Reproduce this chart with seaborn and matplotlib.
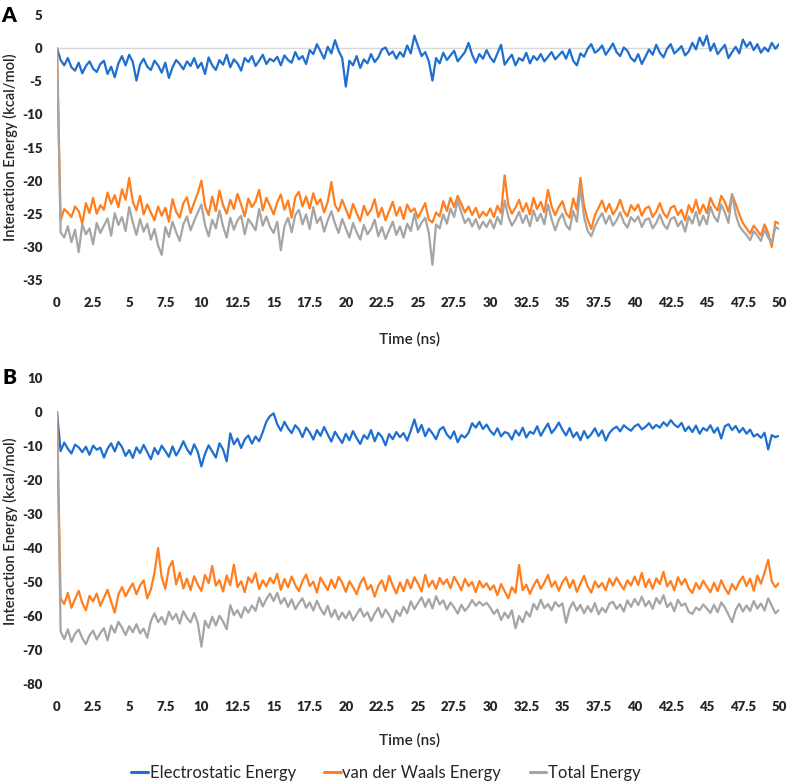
import numpy as np
import pandas as pd
import matplotlib
matplotlib.use("Agg")
import matplotlib.pyplot as plt
from matplotlib.lines import Line2D
import seaborn as sns

# ---------------- data (step 0.25 ns) ----------------
time_ns = np.round(np.arange(0, 50.001, 0.25), 2)

elec_A = [0,
    -1.8, -2.6, -1.5, -2.9, -3.4, -2.2, -3.8, -2.7, -2.0, -3.1, -3.6, -2.4, -1.9, -3.9, -2.8, -4.4, -2.3, -1.2, -2.6,
    -1.0, -2.1, -4.9, -2.5, -1.6, -2.8, -3.3, -1.9, -2.6, -3.7, -2.2, -4.5, -2.9, -1.8, -2.4, -3.2, -2.0, -2.7, -1.5, -3.0,
    -2.2, -3.9, -1.4, -2.6, -3.3, -1.8, -2.5, -1.0, -2.9, -1.7, -2.3, -3.4, -1.5, -2.1, -1.2, -2.7, -1.9, -1.0, -2.4, -1.6,
    -2.0, -1.3, -2.6, -1.1, -1.8, -2.2, -0.6, -1.7, -1.2, -2.4, -0.3, -0.9, 0.6, -0.5, -1.6, 0.2, -0.8, 1.2, -0.4, -1.5,
    -5.8, -1.9, -2.6, -1.2, -3.0, -1.7, -2.3, -0.9, -2.1, -1.4, -0.2, 0.1, -1.0, -0.5, -1.6, -0.6, -1.3, 0.4, -0.8, 1.9,
    0.3, -1.2, -0.6, -2.0, -4.9, -1.5, -2.3, -0.7, -1.8, -1.1, -0.4, -2.0, -1.3, -0.6, 0.8, -1.0, -2.2, -0.9, -1.6, -0.3,
    -1.4, -2.1, -0.8, 0.5, -2.5, -1.7, -1.0, -2.6, -1.5, -1.9, -0.7, -2.3, -1.2, -1.8, -0.9, -2.0, -1.3, -0.6, -1.7, -1.1,
    -0.5, -1.6, -0.2, -1.9, -2.6, -0.8, -1.3, -0.1, 0.6, -0.7, -0.3, 0.4, -1.0, -0.2, 0.7, -0.6, -1.2, 0.1, -0.4, -1.5,
    -2.0, -0.9, -2.4, -1.3, -0.2, -1.0, 0.5, -0.7, -1.4, -0.1, 0.6, -0.8, -0.3, 0.3, -1.1, -0.5, 0.8, -0.2, 1.6, 0.4,
    1.9, -0.4, 0.7, -0.9, -0.2, 0.5, -1.5, -0.6, 0.2, -0.8, 1.3, 0.2, 0.9, -0.3, 0.6, -0.7, 0.1, -0.5, 0.8, -0.1,
    0.6]

vdw_A = [0,
    -26.0, -24.3, -24.8, -25.5, -23.9, -24.6, -26.5, -23.4, -24.9, -22.6, -25.0, -23.7, -24.4, -21.8, -23.5, -22.2, -24.0, -21.3, -22.9,
    -19.6, -23.2, -24.5, -22.3, -25.1, -23.6, -24.8, -26.0, -23.9, -25.3, -24.1, -26.2, -22.8, -24.7, -25.6, -23.4, -22.5, -24.9, -23.3, -21.9,
    -20.0, -23.8, -25.2, -22.4, -24.6, -21.5, -23.7, -25.0, -22.9, -24.3, -22.0, -23.6, -25.4, -22.7, -24.0, -23.1, -21.4, -24.5, -22.6, -23.8,
    -25.1, -23.3, -22.1, -24.4, -23.0, -25.6, -22.5, -21.7, -23.9, -22.4, -24.2, -21.9, -23.6, -22.8, -24.8, -23.2, -20.2, -23.7, -24.6, -22.9,
    -24.3, -25.7, -23.5, -24.9, -26.1, -23.8, -25.2, -24.4, -22.8, -25.5, -24.1, -26.0, -24.6, -23.2, -25.3, -24.0, -25.8, -23.6, -24.7, -24.2,
    -25.6, -24.5, -23.4, -25.9, -26.3, -24.8, -25.4, -23.1, -24.6, -22.6, -24.0, -22.3, -23.5, -24.8, -23.9, -25.2, -24.1, -25.6, -24.7, -25.3,
    -24.2, -25.5, -23.8, -24.9, -19.2, -23.6, -25.0, -24.1, -22.9, -24.7, -23.4, -25.1, -22.6, -24.3, -23.2, -24.8, -21.4, -23.9, -25.2, -24.0,
    -23.1, -24.9, -25.6, -22.7, -24.4, -19.6, -23.8, -25.9, -27.3, -25.2, -24.1, -23.0, -24.7, -23.5, -25.1, -24.3, -22.9, -24.6, -25.4, -23.7,
    -24.5, -23.6, -25.3, -24.2, -23.9, -25.5, -24.7, -23.4, -24.9, -25.6, -24.1, -23.8, -25.2, -24.4, -26.0, -23.7, -24.8, -22.9, -25.0, -23.6,
    -24.9, -22.6, -23.8, -24.5, -22.3, -23.2, -24.7, -22.1, -23.5, -25.1, -26.4, -27.2, -28.0, -26.8, -27.5, -28.3, -26.6, -27.9, -30.0, -26.2,
    -26.5]

total_A = [0,
    -27.8, -28.6, -26.9, -29.3, -27.4, -30.8, -26.6, -28.1, -27.2, -29.6, -26.4, -27.9, -26.8, -25.7, -28.3, -24.9, -26.7, -25.5, -27.6,
    -24.0, -26.3, -28.2, -25.8, -27.7, -26.5, -28.9, -27.3, -29.8, -31.2, -27.0, -28.5, -26.2, -27.8, -29.1, -26.6, -25.4, -27.5, -26.1, -24.8,
    -23.6, -26.7, -28.4, -25.9, -27.2, -24.5, -26.9, -28.6, -25.6, -27.4, -26.0, -25.3, -28.1, -25.8, -26.6, -27.5, -24.3, -26.8, -25.4, -27.0,
    -27.9, -26.2, -30.5, -26.9, -25.6, -27.8, -25.2, -24.4, -26.6, -25.1, -27.3, -24.0, -26.4, -25.5, -27.7, -26.0, -24.6, -26.5, -27.9, -25.8,
    -27.2, -28.6, -26.4, -27.8, -28.9, -26.7, -28.1, -27.3, -25.9, -28.4, -27.0, -28.8, -27.5, -26.2, -28.2, -26.9, -28.6, -26.5, -27.6, -25.0,
    -27.4, -26.3, -25.6, -27.9, -32.7, -26.6, -27.2, -25.1, -26.5, -24.2, -25.5, -23.0, -24.8, -26.4, -25.7, -26.9, -25.8, -27.3, -26.2, -27.0,
    -25.9, -27.2, -25.5, -26.6, -23.0, -25.4, -26.8, -25.9, -24.7, -26.4, -25.2, -26.9, -24.5, -26.1, -25.0, -26.6, -23.6, -25.8, -27.5, -25.9,
    -25.0, -26.7, -27.4, -24.6, -26.2, -21.0, -25.5, -27.6, -28.4, -26.9, -25.8, -24.9, -26.5, -25.3, -26.8, -26.0, -24.8, -26.3, -27.1, -25.5,
    -26.2, -25.4, -27.0, -25.9, -25.7, -27.2, -26.4, -25.1, -26.6, -27.3, -25.8, -25.5, -26.9, -26.1, -27.7, -25.4, -26.5, -24.7, -26.8, -25.3,
    -26.6, -23.9, -25.4, -26.2, -23.6, -24.8, -26.4, -22.0, -25.1, -26.8, -27.6, -28.2, -29.0, -27.6, -28.3, -29.1, -27.4, -28.6, -29.4, -27.0,
    -27.3]

elec_B = [0,
    -11.5, -9.0, -10.8, -12.2, -9.6, -10.4, -11.8, -10.2, -12.6, -9.9, -11.1, -10.5, -13.4, -10.8, -9.2, -11.6, -8.8, -10.3, -12.9,
    -11.2, -13.5, -10.4, -12.1, -9.7, -11.8, -13.9, -10.6, -12.4, -9.9, -11.5, -13.2, -10.1, -12.8, -11.0, -8.6, -10.9, -12.5, -9.5, -11.7,
    -16.0, -12.3, -9.8, -11.6, -13.4, -9.2, -11.0, -14.5, -6.3, -9.5, -7.8, -10.6, -8.1, -6.9, -9.3, -7.2, -8.6, -5.9, -2.8, -1.2,
    -0.4, -3.6, -5.5, -2.9, -4.8, -6.2, -3.9, -5.1, -7.4, -4.6, -6.0, -8.1, -5.3, -7.0, -4.4, -6.6, -8.7, -5.8, -7.5, -9.1,
    -6.4, -8.3, -5.6, -7.7, -9.4, -6.8, -7.9, -5.3, -8.6, -6.1, -7.3, -9.8, -6.5, -8.0, -5.9, -7.4, -6.2, -8.4, -5.5, -2.2,
    -6.0, -3.8, -7.1, -4.9, -6.3, -8.0, -5.2, -4.4, -6.6, -7.8, -5.7, -8.9, -6.8, -7.5, -6.1, -3.3, -4.6, -2.9, -5.0, -3.7,
    -5.5, -6.7, -4.8, -7.2, -5.9, -6.3, -8.1, -5.4, -6.9, -4.6, -7.5, -5.8, -6.4, -4.2, -7.0, -5.1, -3.4, -6.2, -4.9, -3.1,
    -5.2, -6.9, -4.7, -7.4, -6.0, -8.3, -5.6, -7.7, -6.5, -4.8, -7.1, -5.4, -8.4, -6.2, -5.0, -4.3, -5.7, -3.9, -4.8, -5.5,
    -4.2, -3.6, -5.1, -4.4, -3.3, -4.9, -3.8, -4.6, -3.0, -4.1, -2.4, -3.7, -4.5, -3.2, -5.6, -4.3, -5.9, -4.0, -6.4, -4.7,
    -5.5, -3.9, -6.1, -4.6, -7.8, -4.2, -3.6, -5.3, -4.1, -6.0, -4.7, -6.4, -5.2, -7.2, -6.5, -7.6, -6.1, -11.0, -6.8, -7.4,
    -7.0]

vdw_B = [0,
    -54.8, -56.5, -53.2, -57.6, -55.0, -52.6, -56.2, -58.3, -54.1, -55.7, -53.4, -57.0, -54.6, -52.3, -55.8, -59.0, -53.7, -51.5, -54.2,
    -52.1, -50.4, -53.6, -51.0, -49.5, -54.8, -52.2, -47.3, -40.0, -48.6, -52.0, -45.9, -43.8, -50.7, -47.2, -51.9, -49.0, -52.4, -48.3, -50.8,
    -52.6, -47.9, -50.3, -45.3, -51.1, -49.4, -52.8, -48.1, -50.9, -44.9, -51.5, -49.8, -53.0, -48.6, -50.2, -47.4, -52.1, -49.5, -51.3, -48.8,
    -50.4, -47.6, -52.3, -49.1, -51.6, -48.4, -50.9, -52.7, -49.7, -47.8, -51.2, -49.9, -53.1, -48.7, -50.6, -52.4, -49.3, -51.8, -48.5, -50.2,
    -52.9, -49.8, -51.5, -53.6, -50.4, -48.7, -52.2, -50.9, -54.3, -51.1, -49.5, -52.6, -48.2, -51.0, -53.4, -50.1, -52.7, -49.3, -51.9, -48.6,
    -50.5, -52.8, -47.9, -51.4, -49.6, -52.1, -48.8, -50.7, -49.2, -51.9, -48.5, -50.3, -52.4, -49.1, -51.2, -50.0, -53.0, -49.7, -51.6, -50.4,
    -52.3, -51.0, -53.9, -50.6, -52.7, -54.8, -51.5, -53.2, -45.0, -52.4, -50.8, -53.5, -51.1, -49.3, -52.0, -50.2, -47.9, -51.4, -49.8, -52.6,
    -50.1, -48.6, -51.7, -49.4, -52.9, -50.5, -48.2, -51.3, -53.1, -49.8, -51.6, -50.3, -52.4, -49.0, -51.1, -48.7, -50.6, -52.2, -49.5, -51.0,
    -48.4, -50.9, -47.3, -51.5, -49.2, -52.0, -48.9, -50.6, -47.0, -51.3, -49.7, -52.5, -48.6, -50.8, -49.1, -51.9, -53.2, -50.3, -52.1, -49.6,
    -51.4, -53.0, -50.2, -52.7, -49.5, -51.8, -53.5, -50.6, -52.3, -49.9, -48.4, -51.2, -49.0, -52.6, -48.1, -50.5, -47.2, -43.5, -49.8, -51.5,
    -50.3]

total_B = [0,
    -64.5, -66.8, -63.9, -67.6, -65.2, -64.0, -66.5, -68.3, -65.7, -64.3, -66.9, -65.0, -63.6, -67.2, -62.8, -64.9, -61.7, -63.4, -65.6,
    -63.0, -64.8, -62.4, -65.1, -63.7, -66.4, -61.5, -59.2, -61.8, -60.3, -62.5, -58.7, -61.0, -59.4, -62.2, -58.6, -60.6, -61.9, -59.1, -62.0,
    -69.0, -61.4, -63.5, -60.2, -62.8, -59.9, -61.6, -63.9, -56.8, -59.7, -58.3, -60.5, -57.4, -59.0, -56.9, -58.5, -54.6, -57.2, -55.0, -53.4,
    -55.6, -53.2, -56.4, -54.7, -57.3, -55.1, -58.0, -56.2, -54.8, -57.6, -56.0, -58.4, -55.5, -57.9, -59.6, -57.0, -60.3, -58.2, -61.0, -59.0,
    -60.7, -58.6, -61.3, -59.5, -57.8, -60.2, -58.9, -61.5, -59.3, -57.6, -60.4, -58.1, -59.7, -61.8, -58.4, -60.0, -57.3, -59.2, -55.7, -58.0,
    -56.2, -54.5, -57.3, -55.0, -57.8, -54.2, -56.6, -55.4, -58.1, -56.0, -57.5, -59.3, -56.7, -58.5, -57.2, -55.3, -57.0, -55.8, -56.9, -56.1,
    -57.5, -59.4, -58.1, -61.2, -59.0, -60.6, -58.3, -63.6, -60.0, -61.8, -58.7, -60.2, -56.4, -58.1, -55.2, -57.7, -56.5, -58.3, -55.9, -57.2,
    -56.3, -62.0, -57.8, -55.9, -58.4, -56.7, -59.2, -57.1, -58.8, -56.2, -59.5, -57.6, -58.9, -56.4, -55.8, -57.9, -56.6, -58.7, -55.4, -57.3,
    -55.0, -56.8, -54.3, -57.1, -55.6, -57.9, -54.7, -56.4, -53.9, -57.4, -56.1, -58.6, -55.2, -57.0, -56.3, -58.8, -59.4, -57.5, -58.3, -56.6,
    -57.8, -59.1, -56.7, -58.9, -56.0, -57.5, -59.6, -61.8, -58.2, -56.4, -58.7, -56.9, -58.5, -55.6, -57.8, -56.3, -58.4, -54.8, -57.0, -59.2,
    -58.2]

series_names = ["Electrostatic Energy", "van der Waals Energy", "Total Energy"]
series_colors = ["#1F6FCF", "#FF7F1F", "#A5A5A5"]
x_ticks = [0, 2.5, 5, 7.5, 10, 12.5, 15, 17.5, 20, 22.5, 25, 27.5, 30, 32.5,
           35, 37.5, 40, 42.5, 45, 47.5, 50]
x_tick_labels = ["0", "2.5", "5", "7.5", "10", "12.5", "15", "17.5", "20", "22.5",
                 "25", "27.5", "30", "32.5", "35", "37.5", "40", "42.5", "45", "47.5", "50"]
y_ticks_A = [5, 0, -5, -10, -15, -20, -25, -30, -35]
y_ticks_B = [10, 0, -10, -20, -30, -40, -50, -60, -70, -80]

# ---------------- style ----------------
sns.set_theme(style="white")
plt.rcParams['font.family'] = ['Lato', 'DejaVu Sans']

W, H = 789, 784
fig = plt.figure(figsize=(W / 100, H / 100), dpi=100)

def px_axes(left, right, top, bottom):
    return fig.add_axes([left / W, 1 - bottom / H, (right - left) / W, (bottom - top) / H])

axA = px_axes(57, 779, 15, 280)
axB = px_axes(57, 779, 378, 684)

palette = dict(zip(series_names, series_colors))

def make_df(e, v, t):
    return pd.DataFrame({
        "Time": np.concatenate([time_ns] * 3),
        "Energy": np.concatenate([e, v, t]),
        "Series": np.repeat(series_names, len(time_ns)),
    })

tick_color = "#262626"
for ax, (e, v, t), yt, ylim, xlab_y, zero_line in [
    (axA, (elec_A, vdw_A, total_A), y_ticks_A, (-35, 5), -0.226, True),
    (axB, (elec_B, vdw_B, total_B), y_ticks_B, (-80, 10), -0.184, False),
]:
    df = make_df(e, v, t)
    if zero_line:
        ax.axhline(0, color="#D9D9D9", lw=1.0, zorder=0)
    sns.lineplot(data=df, x="Time", y="Energy", hue="Series", hue_order=series_names,
                 palette=palette, estimator=None, sort=False, lw=1.6, ax=ax, legend=False)
    ax.set_xlim(0, 50)
    ax.set_ylim(*ylim)
    ax.set_xticks(x_ticks)
    ax.set_xticklabels(x_tick_labels)
    ax.set_yticks(yt)
    ax.set_yticklabels([str(v_) for v_ in yt])
    for s in ax.spines.values():
        s.set_visible(False)
    ax.tick_params(axis="both", length=0, labelsize=9.5, colors=tick_color)
    ax.tick_params(axis="y", pad=10.5)
    ax.tick_params(axis="x", pad=12)
    for lab in ax.get_xticklabels() + ax.get_yticklabels():
        lab.set_fontweight("heavy")
    ax.set_xlabel("Time (ns)", fontsize=11, fontweight="semibold", color=tick_color)
    ax.xaxis.set_label_coords(0.488, xlab_y)
    ax.xaxis.label.set_va("center")
    ax.set_ylabel("Interaction Energy (kcal/mol)", fontsize=10.5, fontweight="semibold",
                  color=tick_color)
    ax.yaxis.set_label_coords(-0.064, 0.5)
    ax.yaxis.label.set_va("center")
    ax.grid(False)

fig.text(9 / W, 1 - 15 / H, "A", fontsize=15, fontweight="heavy", va="center", ha="center", color="black")
fig.text(9 / W, 1 - 377 / H, "B", fontsize=15, fontweight="heavy", va="center", ha="center", color="black")

handles = [Line2D([0], [0], color=c, lw=2.2) for c in series_colors]
fig.legend(handles, series_names, loc="center", bbox_to_anchor=(386 / W, 1 - 773 / H),
           ncol=3, frameon=False, fontsize=12, handlelength=1.0, handletextpad=0.1,
           columnspacing=1.7, labelcolor=tick_color)

fig.savefig("out.png", dpi=100, facecolor="white")
